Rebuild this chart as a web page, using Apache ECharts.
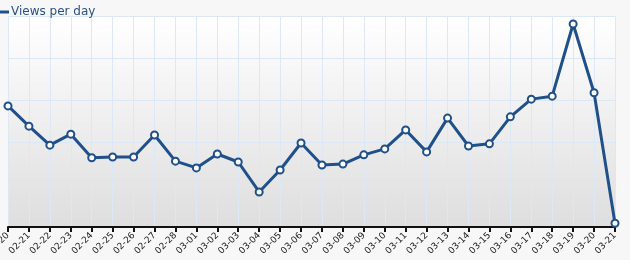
<!DOCTYPE html>
<html><head><meta charset="utf-8">
<script src="https://cdn.jsdelivr.net/npm/echarts@6/dist/echarts.min.js"></script>
<style>html,body{margin:0;padding:0;background:#f7f7f7}#c{width:630px;height:260px}</style>
</head><body><div id="c"></div>
<script>
const categories = ['02-20','02-21','02-22','02-23','02-24','02-25','02-26','02-27','02-28',
  '03-01','03-02','03-03','03-04','03-05','03-06','03-07','03-08','03-09','03-10','03-11',
  '03-12','03-13','03-14','03-15','03-16','03-17','03-18','03-19','03-20','03-21'];
const views = [287,239,194,220,164,166,166,218,156,
  140,173,154,83,135,199,147,149,171,185,230,
  178,258,192,197,261,303,310,481,318,9];
const seriesName = 'Views per day';

const chart = echarts.init(document.getElementById('c'), null, {renderer:'canvas'});
chart.setOption({
  backgroundColor:'#f7f7f7',
  animation:false,
  legend:{
    left:-5, top:1, icon:'rect', itemWidth:9, itemHeight:3, itemGap:4,
    itemStyle:{color:'#1f5089', borderWidth:0},
    textStyle:{fontFamily:'DejaVu Sans', fontSize:12, color:'#2a5181', padding:[0,0,0,-3]},
    data:[seriesName]
  },
  grid:{
    left:8, right:15, top:16, bottom:33, show:true, borderWidth:0,
    outerBoundsMode:'none', containLabel:false,
    backgroundColor:new echarts.graphic.LinearGradient(0,0,0,1,[
      {offset:0,color:'#ffffff'},{offset:1,color:'#dedede'}])
  },
  xAxis:{
    type:'category', data:categories, boundaryGap:false,
    axisLine:{lineStyle:{color:'#111', width:2}},
    axisTick:{show:true, length:5, lineStyle:{color:'#111', width:2}},
    axisLabel:{rotate:45, interval:0, fontSize:9, color:'#222', fontFamily:'DejaVu Sans', margin:7},
    splitLine:{show:true, lineStyle:{color:'#dce8f6', width:1}}
  },
  yAxis:{
    type:'value', min:0, max:500, interval:100,
    axisLabel:{show:false}, axisLine:{show:false}, axisTick:{show:false},
    splitLine:{show:true, lineStyle:{color:'#dce8f6', width:1}}
  },
  series:[{
    name:seriesName, type:'line', data:views,
    symbol:'circle', symbolSize:7, showAllSymbol:true,
    lineStyle:{color:'#1f5089', width:3},
    itemStyle:{color:'#ffffff', borderColor:'#1f5089', borderWidth:2},
    emphasis:{disabled:true}
  }]
});
</script></body></html>
